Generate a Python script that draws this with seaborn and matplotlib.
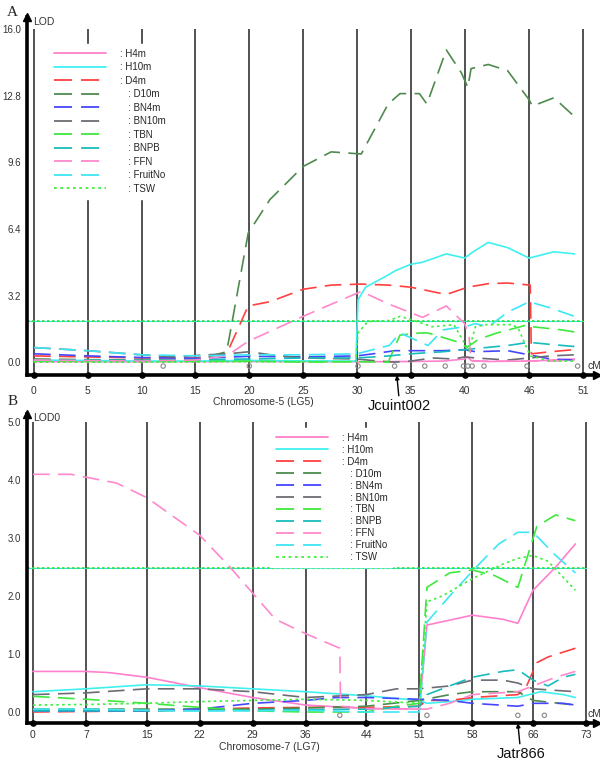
# -*- coding: utf-8 -*-
"""
QTL LOD profiles for LG5 (panel A) and LG7 (panel B).
"""

import numpy as np
import pandas as pd
import matplotlib
matplotlib.use("Agg")
import matplotlib.pyplot as plt
from matplotlib.lines import Line2D
import seaborn as sns

# ==============================================================================
# DATA - panel A (Chromosome-5, LG5)
# ==============================================================================
A_TICKS = [0, 5, 10, 15, 20, 25, 30, 35, 40, 46, 51]
A_YTICKS = [0.0, 3.2, 6.4, 9.6, 12.8, 16.0]
A_THRESHOLD = 1.96
A_MARKER_POS = [12, 20, 30.1, 33.5, 36.3, 38.2, 39.9, 40.3, 40.7, 41.8, 45.8, 50.5]
A_QTL_NAME = "Jcuint002"
A_QTL_POS = 33.7

a_h4m_x = [0, 10, 20, 30, 35, 38, 40, 40.3, 40.6, 42, 46, 50.2]
a_h4m_y = [0.02, 0.02, 0.03, 0.02, 0.03, 0.05, 0.15, 0.25, 0.08, 0.03, 0.05, 0.15]

a_h10m_x = [0, 5, 10, 15, 20, 25, 29.9, 30.1, 30.8, 32.6, 33.6, 35, 36.1, 38.3,
            40, 40.8, 42.2, 44, 46, 48.3, 50.2]
a_h10m_y = [0.1, 0.08, 0.05, 0.05, 0.08, 0.06, 0.05, 3.0, 3.6, 4.1, 4.4, 4.7, 4.8,
            5.2, 5.0, 5.3, 5.75, 5.5, 5.0, 5.3, 5.2]

a_d4m_x = [0, 5, 10, 15, 17.9, 19.9, 21.9, 25, 27.6, 30.4, 32.9, 35, 38.3, 40.3,
           42.2, 44, 46.1, 46.2, 48, 50.2]
a_d4m_y = [0.3, 0.25, 0.2, 0.2, 0.4, 2.7, 2.9, 3.5, 3.7, 3.75, 3.7, 3.6, 3.25, 3.6,
           3.77, 3.8, 3.7, 0.4, 0.5, 0.6]

a_d10m_x = [0, 5, 10, 15, 17.9, 19.9, 21.9, 25, 27.6, 30.4, 32.9, 34, 35.8, 36.5,
            38.3, 39.7, 40.3, 40.6, 42.2, 44, 46, 46.3, 48.3, 50.2]
a_d10m_y = [0.15, 0.12, 0.1, 0.1, 0.5, 6.2, 7.8, 9.4, 10.1, 10.0, 12.4, 12.9, 12.9,
            12.4, 15.0, 13.9, 13.2, 14.1, 14.3, 14.0, 12.6, 12.3, 12.7, 11.8]

a_bn4m_x = [0, 5, 10, 15, 20, 25, 30, 31.5, 33.5, 35, 38, 40, 41, 44, 46, 48, 50.2]
a_bn4m_y = [0.4, 0.3, 0.22, 0.18, 0.28, 0.25, 0.3, 0.4, 0.55, 0.55, 0.55, 0.6, 0.5,
            0.55, 0.35, 0.15, 0.1]

a_bn10m_x = [0, 5, 10, 13, 16, 18, 20, 22, 25, 30, 32, 33.5, 35, 37, 39, 40, 41,
             44, 46, 48, 50.2]
a_bn10m_y = [0.7, 0.55, 0.35, 0.25, 0.35, 0.4, 0.5, 0.35, 0.2, 0.15, 0.05, 0.0,
             0.05, 0.2, 0.15, 0.25, 0.2, 0.1, 0.2, 0.3, 0.35]

a_tbn_x = [0, 10, 20, 25, 30, 32.9, 34, 35.8, 36.6, 39.5, 40.2, 41.3, 43, 45.9,
           46.3, 49, 50.2]
a_tbn_y = [0.05, 0.03, 0.05, 0.0, 0.02, 0.0, 1.3, 1.4, 1.4, 0.95, 0.7, 1.1, 1.4,
           1.8, 1.7, 1.55, 1.45]

a_bnpb_x = [0, 5, 10, 15, 20, 25, 30, 33, 35, 38, 40, 42, 44, 46, 48, 50.2]
a_bnpb_y = [0.1, 0.1, 0.08, 0.12, 0.15, 0.2, 0.2, 0.3, 0.4, 0.5, 0.6, 0.7, 0.8,
            0.95, 0.85, 0.75]

a_ffn_x = [0, 10, 15, 17.9, 19.9, 25, 30.4, 32.9, 36.1, 38.3, 40, 40.4, 40.6, 44,
           48, 50.2]
a_ffn_y = [0.1, 0.05, 0.1, 0.3, 1.0, 2.2, 3.4, 2.8, 2.15, 2.7, 1.85, 1.3, 0.05,
           0.05, 0.05, 0.1]

a_fruitno_x = [0, 5, 10, 15, 20, 25, 30, 33, 34, 36.6, 38, 40, 41, 42.2, 44, 46,
               48, 50.2]
a_fruitno_y = [0.7, 0.55, 0.35, 0.3, 0.35, 0.35, 0.4, 0.8, 1.4, 0.8, 1.55, 1.7,
               1.85, 1.7, 2.4, 2.9, 2.6, 2.2]

a_tsw_x = [0, 10, 20, 29.9, 30.1, 31, 33, 34, 35, 37, 39, 40.4, 41, 42, 44.5, 45,
           46.1, 48, 50.2]
a_tsw_y = [0.0, 0.0, 0.02, 0.02, 1.4, 1.95, 2.0, 2.2, 2.05, 1.7, 1.8, 0.55, 1.7,
           1.8, 1.8, 1.6, 0.3, 0.05, 0.05]

# ==============================================================================
# DATA - panel B (Chromosome-7, LG7)
# ==============================================================================
B_TICKS = [0, 7, 15, 22, 29, 36, 44, 51, 58, 66, 73]
B_YTICKS = [0.0, 1.0, 2.0, 3.0, 4.0, 5.0]
B_THRESHOLD = 2.48
B_MARKER_POS = [40.5, 52, 64, 67.5]
B_QTL_NAME = "Jatr866"
B_QTL_POS = 64

b_h4m_x = [0, 7, 10, 15, 22, 29, 36, 44, 51, 52, 58, 62, 64, 66, 69, 71.6]
b_h4m_y = [0.7, 0.7, 0.68, 0.6, 0.42, 0.25, 0.12, 0.06, 0.05, 1.5, 1.67, 1.6,
           1.53, 2.1, 2.5, 2.9]

b_h10m_x = [0, 7, 15, 22, 29, 36, 44, 51, 52, 55, 58, 64, 67, 70, 71.6]
b_h10m_y = [0.35, 0.4, 0.47, 0.45, 0.4, 0.35, 0.28, 0.2, 0.15, 0.18, 0.22, 0.25,
            0.35, 0.3, 0.25]

b_d4m_x = [0, 15, 22, 29, 36, 44, 51, 52, 55, 58, 64, 65, 66.5, 68, 71.6]
b_d4m_y = [0.0, 0.02, 0.05, 0.07, 0.08, 0.08, 0.1, 0.2, 0.2, 0.25, 0.3, 0.4, 0.85,
           0.95, 1.1]

b_d10m_x = [0, 15, 29, 36, 44, 51, 55, 58, 64, 66, 71.6]
b_d10m_y = [0.05, 0.05, 0.05, 0.07, 0.1, 0.2, 0.3, 0.35, 0.35, 0.2, 0.12]

b_bn4m_x = [0, 15, 22, 29, 36, 40, 44, 51, 55, 58, 64, 66, 70, 71.6]
b_bn4m_y = [0.02, 0.02, 0.05, 0.15, 0.2, 0.25, 0.25, 0.22, 0.2, 0.15, 0.1, 0.15,
            0.15, 0.12]

b_bn10m_x = [0, 7, 15, 22, 29, 36, 44, 48, 51, 55, 58, 62, 64, 66, 71.6]
b_bn10m_y = [0.3, 0.33, 0.4, 0.4, 0.35, 0.25, 0.3, 0.4, 0.4, 0.45, 0.55, 0.55,
             0.5, 0.4, 0.35]

b_tbn_x = [0, 7, 15, 22, 29, 36, 44, 48, 51, 52, 55, 58, 61, 64, 66.5, 69, 71.6]
b_tbn_y = [0.27, 0.22, 0.15, 0.08, 0.02, 0.0, 0.0, 0.1, 0.15, 2.15, 2.4, 2.45,
           2.35, 2.15, 3.2, 3.4, 3.3]

b_bnpb_x = [0, 15, 29, 44, 51, 52, 55, 58, 62, 64, 66, 68, 70, 71.6]
b_bnpb_y = [0.02, 0.02, 0.03, 0.05, 0.1, 0.3, 0.45, 0.6, 0.7, 0.73, 0.55, 0.45,
            0.6, 0.65]

b_ffn_x = [0, 5, 7, 11, 15, 22, 26, 29, 32, 36, 40.5, 40.6, 44, 51, 52, 55, 58,
           64, 66, 69, 71.6]
b_ffn_y = [4.1, 4.1, 4.05, 3.95, 3.7, 3.05, 2.5, 2.05, 1.6, 1.35, 1.1, 0.1, 0.06,
           0.05, 0.05, 0.15, 0.3, 0.35, 0.45, 0.6, 0.7]

b_fruitno_x = [0, 7, 15, 22, 29, 36, 44, 51, 52, 55, 58.5, 61.5, 64, 66, 69, 71.6]
b_fruitno_y = [0.05, 0.05, 0.03, 0.02, 0.02, 0.03, 0.0, 0.0, 1.55, 2.0, 2.5, 2.9,
               3.1, 3.1, 2.7, 2.4]

b_tsw_x = [0, 7, 15, 22, 29, 36, 44, 51, 52, 54, 58, 62, 64, 66, 68, 71.6]
b_tsw_y = [0.12, 0.13, 0.15, 0.18, 0.2, 0.22, 0.2, 0.15, 1.9, 2.0, 2.3, 2.55,
           2.65, 2.7, 2.6, 2.1]

# ==============================================================================
# STYLE
# ==============================================================================
TRAITS = ["H4m", "H10m", "D4m", "D10m", "BN4m", "BN10m", "TBN", "BNPB", "FFN",
          "FruitNo", "TSW"]
COLORS = {
    "H4m": "#ff80cc", "H10m": "#40f0f0", "D4m": "#ff4040", "D10m": "#4e8a4e",
    "BN4m": "#4646ff", "BN10m": "#6c6c74", "TBN": "#3ee83e", "BNPB": "#18bcbc",
    "FFN": "#ff88cc", "FruitNo": "#3ee6f4", "TSW": "#3cf03c",
}
DASH = (0, (10, 5))
STYLES = {t: DASH for t in TRAITS}
STYLES["H4m"] = "-"
STYLES["H10m"] = "-"
STYLES["TSW"] = (0, (1.5, 2))

sns.set_style("white")
plt.rcParams["font.family"] = ["Liberation Sans", "DejaVu Sans"]


def build_frame(prefix):
    rows = []
    for t in TRAITS:
        xs = globals()[f"{prefix}_{t.lower()}_x"]
        ys = globals()[f"{prefix}_{t.lower()}_y"]
        for x, y in zip(xs, ys):
            rows.append({"trait": t, "cM": x, "LOD": y})
    return pd.DataFrame(rows)


def draw_panel(ax, df, ticks, yticks, ylim, xlim, threshold, marker_pos,
               qtl_name, qtl_pos, chrom_label, lod_label, legend_anchor,
               label_spacing, xlabel_pos, tick_pad, qtl_offset):
    ax.set_xlim(*xlim)
    ax.set_ylim(*ylim)

    # vertical marker-interval lines
    ax.vlines(ticks, ylim[0], yticks[-1], color="#222222", lw=1.1, zorder=1)

    # threshold line
    ax.plot([xlim[0], ticks[-1]], [threshold, threshold], color="#30e8e8",
            lw=0.8, zorder=2)
    ax.plot([xlim[0], ticks[-1]], [threshold, threshold], color="#30e030",
            lw=1.2, ls=(0, (1.5, 1.5)), zorder=2)

    for t in TRAITS:
        sub = df[df["trait"] == t]
        sns.lineplot(data=sub, x="cM", y="LOD", ax=ax, color=COLORS[t],
                     linestyle=STYLES[t], linewidth=1.2, estimator=None,
                     sort=False, zorder=3)

    # axes
    for s in ["top", "right"]:
        ax.spines[s].set_visible(False)
    for s in ["left", "bottom"]:
        ax.spines[s].set_linewidth(2.6)
        ax.spines[s].set_color("black")
    ax.plot(1, 0, ">k", ms=6, transform=ax.transAxes, clip_on=False)
    ax.plot(0, 1, "^k", ms=6, transform=ax.transAxes, clip_on=False)

    ax.set_yticks(yticks)
    ax.set_yticklabels([f"{v:.1f}" for v in yticks])
    ax.set_xticks(ticks)
    ax.set_xticklabels([str(v) for v in ticks])
    ax.tick_params(axis="y", direction="inout", length=7, width=1.5, pad=1,
                   labelsize=7, colors="#333333")
    ax.tick_params(axis="x", length=0, pad=tick_pad, labelsize=7.5,
                   colors="#333333")
    ax.scatter(ticks, [ylim[0]] * len(ticks), s=14, color="black",
               clip_on=False, zorder=6)
    ax.scatter(marker_pos, [ylim[0] + (ylim[1] - ylim[0]) * 0.025] * len(marker_pos),
               s=10, facecolors="none", edgecolors="#888888", lw=0.8,
               clip_on=False, zorder=6)

    ax.set_xlabel(chrom_label, fontsize=7.5, color="#333333")
    ax.xaxis.set_label_coords(*xlabel_pos)
    ax.set_ylabel("")
    ax.text(0.011, 0.987, lod_label, transform=ax.transAxes, fontsize=7.5,
            va="center", ha="left", color="#333333")
    ax.text(0.995, 0.012, "cM", transform=ax.transAxes, fontsize=7.5,
            va="bottom", ha="center", color="#333333")

    ax.annotate(qtl_name, xy=(qtl_pos, ylim[0]), xytext=(3, qtl_offset),
                textcoords="offset pixels", ha="center", va="top",
                fontsize=10.5, color="#111111",
                arrowprops=dict(arrowstyle="-|>", color="black", lw=1,
                                shrinkA=0, shrinkB=0, mutation_scale=6))

    handles = [Line2D([0], [0], color=COLORS[t], ls=STYLES[t], lw=1.3)
               for t in TRAITS]
    labels = [(": " if i < 3 else "   : ") + t for i, t in enumerate(TRAITS)]
    leg = ax.legend(handles, labels, loc="upper left",
                    bbox_to_anchor=legend_anchor, frameon=True, fontsize=7,
                    handlelength=5.4, handletextpad=1.4,
                    labelspacing=label_spacing, borderaxespad=0, borderpad=0.5,
                    framealpha=1)
    leg.get_frame().set_edgecolor("white")
    leg.get_frame().set_facecolor("white")
    leg.set_zorder(5)


def main():
    fig = plt.figure(figsize=(6, 7.66), dpi=100)
    axA = fig.add_axes([0.045, 0.5104, 0.95, 0.4674])
    axB = fig.add_axes([0.045, 0.0561, 0.95, 0.4034])

    draw_panel(axA, build_frame("a"), A_TICKS, A_YTICKS, (-0.62, 16.58),
               (-0.65, 52.3), A_THRESHOLD, A_MARKER_POS, A_QTL_NAME, A_QTL_POS,
               "Chromosome-5 (LG5)", "LOD", (0.038, 0.925), 0.36,
               (0.414, -0.06), 8, -24)
    draw_panel(axB, build_frame("b"), B_TICKS, B_YTICKS, (-0.19, 5.14),
               (-0.79, 74.45), B_THRESHOLD, B_MARKER_POS, B_QTL_NAME, B_QTL_POS,
               "Chromosome-7 (LG7)", "LOD0", (0.428, 0.955), 0.2,
               (0.425, -0.062), 5, -24)

    fig.text(0.012, 0.992, "A", fontsize=11, family="Liberation Serif",
             va="top", ha="left")
    fig.text(0.012, 0.484, "B", fontsize=11, family="Liberation Serif",
             va="top", ha="left")

    fig.savefig("out.png", dpi=100)
    plt.close(fig)


if __name__ == "__main__":
    main()
